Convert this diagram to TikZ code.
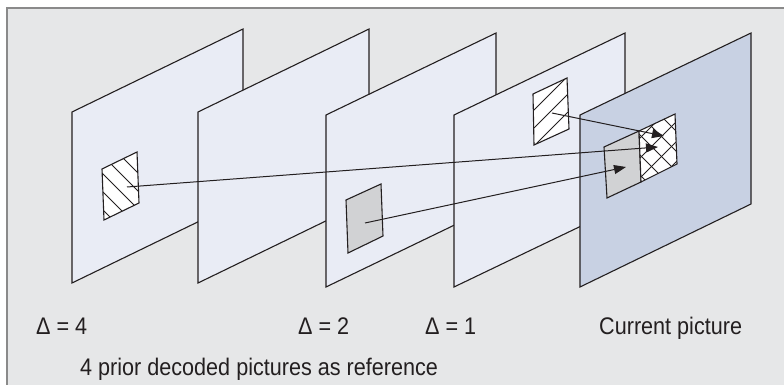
\documentclass[tikz,border=0pt]{standalone}
\usepackage{fontspec}
\setmainfont[FakeStretch=0.9]{Liberation Sans}
\usetikzlibrary{arrows.meta}
\definecolor{bgc}{HTML}{E6E7E8}
\definecolor{framec}{HTML}{8A8A8A}
\definecolor{linec}{HTML}{231F20}
\definecolor{panelc}{HTML}{E9ECF5}
\definecolor{curc}{HTML}{C8D1E3}
\definecolor{blockc}{HTML}{D1D2D4}
\tikzset{
  panel/.style={draw=linec, fill=panelc, line width=1.1pt, line join=miter},
  curpanel/.style={panel, fill=curc},
  blk/.style={draw=linec, line width=1.1pt, line join=miter},
  hatch/.style={draw=linec, line width=1pt},
  arr/.style={draw=linec, line width=1pt, -{Triangle[length=12pt,width=9pt]}},
  lbl/.style={font=\fontsize{24}{28}\selectfont, text=linec, inner sep=0pt, anchor=base west}
}
\begin{document}
\begin{tikzpicture}[x=1pt,y=-1pt]
\useasboundingbox (0,0) rectangle (784,385);
\fill[white] (0,0) rectangle (784,385);
\fill[bgc] (7,8) rectangle (784,385);
\draw[framec, line width=2pt] (7,385) -- (7,8) -- (784,8);

% panel 1 (Delta = 4)
\draw[panel] (72,112) -- (243,29) -- (243,200) -- (72,283) -- cycle;
\fill[white] (102,169) -- (137,152) -- (139,203) -- (104,220) -- cycle;
\begin{scope}
  \clip (102,169) -- (137,152) -- (139,203) -- (104,220) -- cycle;
  \foreach \c in {35,53,71,89,107} \draw[hatch] (90,90+\c) -- (150,150+\c);
\end{scope}
\draw[blk] (102,169) -- (137,152) -- (139,203) -- (104,220) -- cycle;

% panel 2
\draw[panel] (198,112) -- (369,29) -- (369,200) -- (198,283) -- cycle;

% panel 3 (Delta = 2)
\draw[panel] (326,115) -- (496,33) -- (496,205) -- (326,287) -- cycle;
\draw[blk, fill=blockc] (346,200) -- (381,184) -- (383,236) -- (348,253) -- cycle;

% panel 4 (Delta = 1)
\draw[panel] (454,115) -- (625,33) -- (625,205) -- (454,287) -- cycle;
\fill[white] (533,94) -- (567,78) -- (569,129) -- (534,145) -- cycle;
\begin{scope}
  \clip (533,94) -- (567,78) -- (569,129) -- (534,145) -- cycle;
  \foreach \c in {644,662,680} \draw[hatch] (520,\c-520) -- (580,\c-580);
\end{scope}
\draw[blk] (533,94) -- (567,78) -- (569,129) -- (534,145) -- cycle;

% panel 5 (current picture)
\draw[curpanel] (580,115) -- (751,33) -- (751,204) -- (580,287) -- cycle;
\draw[blk, fill=blockc] (604,147) -- (639,131) -- (641,182) -- (607,198) -- cycle;
\fill[white] (639,131) -- (675,114) -- (677,164) -- (641,182) -- cycle;
\begin{scope}
  \clip (639,131) -- (675,114) -- (677,164) -- (641,182) -- cycle;
  \foreach \c in {-545,-525,-505,-485,-465} \draw[hatch] (630,630+\c) -- (690,690+\c);
  \foreach \c in {778,798,818,838} \draw[hatch] (630,\c-630) -- (690,\c-690);
\end{scope}
\draw[blk] (639,131) -- (675,114) -- (677,164) -- (641,182) -- cycle;

% connectors
\coordinate (s1) at (127,187);
\coordinate (e1) at (658,147);
\coordinate (s2) at (365,223);
\coordinate (e2) at (626,167);
\coordinate (s3) at (552,113);
\coordinate (e3) at (664,136);
\draw[arr] (s1) -- (e1);
\draw[arr] (s2) -- (e2);
\draw[arr] (s3) -- (e3);

% labels
\node[lbl] (d4) at (36,334) {Δ = 4};
\node[lbl] (d2) at (298,334) {Δ = 2};
\node[lbl] (d1) at (425,334) {Δ = 1};
\node[lbl] (cur) at (599,334) {Current picture};
\node[lbl] (ref) at (80,375) {4 prior decoded pictures as reference};
\end{tikzpicture}
\end{document}
